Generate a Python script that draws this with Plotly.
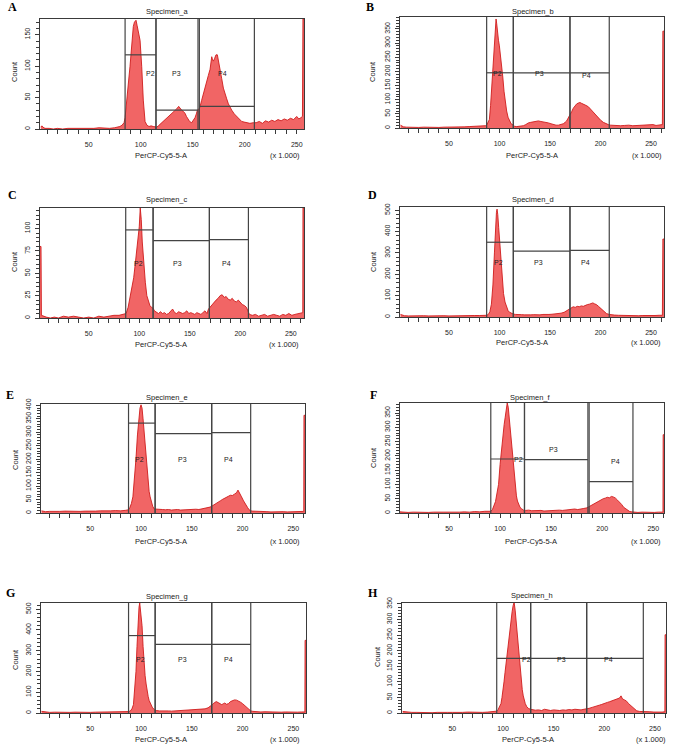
import plotly.graph_objects as go

W, H = 676, 748

PANEL_LETTERS = ["A", "B", "C", "D", "E", "F", "G", "H"]
SPECIMENS = ["Specimen_a", "Specimen_b", "Specimen_c", "Specimen_d",
             "Specimen_e", "Specimen_f", "Specimen_g", "Specimen_h"]
X_TITLE = "PerCP-Cy5-5-A"
X_SCALE_NOTE = "(x 1.000)"
Y_TITLE = "Count"
X_TICKS = [50, 100, 150, 200, 250]
GATE_NAMES = ["P2", "P3", "P4"]

# histogram samples (channel value in thousands, count)
A_HIST = [(4, 3), (5, 5), (6, 3), (8, 1), (12, 1), (16, 0), (20, 1), (25, 0), (30, 1), (35, 1), (40, 1), (45, 0),
          (50, 1), (55, 1), (60, 2), (65, 1), (70, 1), (75, 2), (78, 3), (80, 4), (82, 6), (84, 10),
          (85, 18), (86.5, 40), (88, 70), (89.7, 99), (91, 130), (92.9, 163), (94, 170), (95.5, 173), (96.5, 165),
          (97.7, 152), (99.4, 141), (101, 99), (102.5, 46), (104.2, 12), (106, 6), (108, 4), (110, 5), (112, 4), (114, 3),
          (115.5, 3), (117, 5), (119, 8), (121.8, 12), (123, 15), (125, 18), (127, 20), (128.2, 22), (130, 25),
          (131.4, 28), (133, 30), (134.6, 32), (136.5, 36), (138, 32), (139.4, 30), (141, 28), (142.6, 25), (144, 20),
          (145.8, 15), (147, 12), (149, 10), (150.5, 13), (152.2, 18), (153.5, 24), (154.5, 30), (155.5, 30),
          (157, 35), (158.5, 45), (160.3, 55), (162, 65), (163.5, 75), (165, 85), (166.7, 95), (167.5, 105),
          (168.3, 115), (169.1, 110), (169.9, 108), (171, 112), (172.4, 118), (173.7, 118), (175, 108), (176.3, 95),
          (177.9, 80), (179.5, 65), (181.1, 55), (182.7, 48), (184.3, 40), (186, 34), (187.5, 30), (190, 24),
          (192.3, 20), (194.7, 15), (197.1, 12), (199.5, 11), (201.9, 10), (205, 9), (208.3, 10),
          (211, 10), (214, 12), (217, 9), (220, 13), (223, 11), (226, 14), (229, 12), (232, 15), (235, 13), (238, 16),
          (241, 14), (244, 17), (247, 15), (250, 20), (252, 16), (254, 18), (255.5, 20), (256, 175), (257, 175)]

B_HIST = [(2, 10), (3, 8), (5, 4), (8, 3), (12, 2), (16, 3), (20, 2), (25, 3), (30, 2), (35, 3), (40, 2), (45, 3),
          (50, 3), (55, 2), (60, 3), (65, 4), (70, 5), (75, 6), (80, 5), (84, 6), (86, 8),
          (87.3, 10), (88.5, 18), (90, 30), (91.2, 80), (92.3, 150), (93.5, 230), (94.6, 300), (95.6, 350),
          (96.6, 385), (97.2, 370), (97.9, 340), (99, 310), (99.9, 290), (101, 260), (102.2, 220), (103.3, 180),
          (104.5, 130), (105.8, 90), (107.1, 60), (108.5, 38), (109.8, 25), (111.5, 15), (113.7, 10),
          (115, 6), (117, 5), (119, 6), (121, 7), (123.6, 8), (126, 12), (128.6, 18), (131, 20), (133.5, 22),
          (136, 25), (138.5, 25), (141, 23), (143.4, 22), (146, 20), (148.4, 18), (151, 15), (153.3, 12), (156, 10),
          (158.3, 10), (161, 12), (163.2, 15), (165, 20), (166.5, 25), (168, 35), (169.8, 45), (171.5, 58),
          (173.1, 70), (174.8, 80), (176.4, 85), (178, 88), (179.7, 90), (181.3, 87), (183, 85), (185.5, 80),
          (188, 75), (190.5, 65), (192.9, 55), (195.4, 45), (197.9, 35), (200.3, 27), (202.8, 20), (205.3, 15),
          (207.8, 12), (210, 10), (213, 9), (216, 10), (220, 8), (224, 9), (228, 10), (232, 8), (236, 9), (240, 10),
          (244, 9), (248, 10), (252, 12), (255, 9), (258, 10), (260.5, 11), (261.3, 12), (261.8, 342), (262.9, 342)]

C_HIST = [(1.8, 80), (2.8, 80), (3.2, 3), (5, 2), (8, 1), (12, 0), (16, 1), (20, 0), (25, 2), (30, 1), (35, 2),
          (40, 1), (45, 0), (50, 1), (55, 0), (60, 2), (65, 1), (70, 2), (75, 3), (80, 3), (84, 4), (86, 5),
          (87, 5), (89, 12), (91, 25), (93, 35), (94.5, 45), (96, 60), (97.5, 75), (99, 90), (100, 102), (101, 123),
          (102, 110), (103, 85), (104.5, 60), (106, 40), (107.5, 25), (109, 18), (110.5, 14), (112, 12), (113.7, 11),
          (115, 8), (117, 6), (119, 5), (121, 7), (123, 5), (125, 6), (127, 4), (129, 5), (131, 7), (133, 10),
          (135, 6), (137, 5), (139, 7), (141, 6), (143, 5), (145, 6), (147, 8), (149, 5), (151, 6), (153, 5),
          (155, 4), (157, 6), (159, 5), (161, 4), (163, 6), (165, 8), (167, 5), (168.5, 10),
          (170, 12), (172, 15), (174, 18), (176, 20), (178, 22), (180, 25), (182, 26), (184, 23), (186, 24),
          (188, 21), (190, 20), (192, 22), (194, 19), (196, 18), (198, 20), (200, 17), (202, 15), (204, 14),
          (206, 12), (207.5, 8), (209, 4), (212, 3), (215, 4), (218, 2), (221, 3), (224, 4), (227, 2), (230, 3),
          (233, 4), (236, 3), (239, 2), (242, 4), (245, 3), (248, 5), (251, 3), (254, 4), (257, 5), (260, 6),
          (261.8, 6), (262, 123), (263, 123)]

D_HIST = [(2, 12), (4, 8), (6, 6), (10, 5), (15, 6), (20, 5), (25, 6), (30, 5), (35, 6), (40, 5), (45, 6),
          (50, 5), (55, 6), (60, 5), (65, 6), (70, 6), (75, 7), (80, 7), (85, 8), (87.3, 8),
          (89, 12), (90.5, 25), (92, 60), (93.5, 150), (95, 300), (96, 420), (97, 490), (97.6, 505), (98.3, 480),
          (99.2, 420), (100, 360), (101, 280), (102, 210), (103, 150), (104, 110), (105.5, 70), (107, 45),
          (108.5, 30), (110, 22), (112, 16), (113.7, 14),
          (116, 12), (119, 10), (122, 11), (125, 10), (128, 9), (131, 10), (134, 11), (137, 10), (140, 10),
          (143, 12), (146, 11), (149, 12), (152, 13), (155, 14), (158, 15), (161, 18), (164, 22), (166, 28),
          (168, 35), (169.8, 42), (171, 45), (173, 48), (175, 45), (177, 50), (179, 48), (181, 52), (183, 50),
          (185, 55), (187, 58), (189, 60), (191, 63), (192.5, 66), (194, 62), (196, 58), (198, 50), (200, 42),
          (202, 32), (204, 22), (206, 16), (208.7, 12), (211, 10), (214, 9), (218, 8), (222, 7), (226, 8),
          (230, 6), (234, 7), (238, 6), (242, 7), (246, 6), (250, 8), (254, 7), (258, 8), (261.3, 8),
          (261.8, 365), (262.9, 365)]

E_HIST = [(2, 8), (4, 6), (6, 5), (10, 6), (15, 5), (20, 6), (25, 7), (30, 6), (35, 7), (40, 6), (45, 7),
          (50, 6), (55, 7), (60, 8), (65, 7), (70, 8), (75, 9), (80, 8), (85, 10), (87.7, 12),
          (89, 20), (90.5, 35), (92, 60), (93.5, 120), (95, 200), (96.5, 290), (98, 370), (99, 390), (100, 402),
          (101, 390), (102, 350), (103, 300), (104, 250), (105, 200), (106, 150), (107, 110), (108, 80), (109, 60),
          (110, 40), (111.5, 25), (113, 15),
          (115, 14), (118, 12), (121, 13), (124, 12), (127, 13), (130, 11), (133, 12), (136, 13), (139, 11),
          (142, 12), (145, 13), (148, 12), (151, 13), (154, 14), (157, 13), (160, 15), (163, 17), (166, 20),
          (168, 22), (169.6, 25), (172, 30), (174, 35), (176, 40), (178, 45), (180, 50), (182, 55), (184, 58),
          (186, 62), (188, 66), (190, 65), (192, 70), (194, 75), (195.5, 85), (197, 72), (199, 60), (201, 45),
          (203, 30), (205, 20), (206.5, 12), (208, 8), (210, 7), (213, 6), (216, 5), (220, 6), (224, 5), (228, 4),
          (232, 5), (236, 4), (240, 5), (244, 4), (248, 5), (252, 4), (256, 5), (259.5, 6), (260.3, 6),
          (260.5, 363), (261.5, 363)]

F_HIST = [(2, 4), (5, 3), (10, 2), (15, 3), (20, 2), (25, 3), (30, 2), (35, 3), (40, 2), (45, 3), (50, 3),
          (55, 2), (60, 3), (65, 4), (70, 3), (75, 5), (80, 4), (85, 6), (89, 5), (91, 6),
          (92.5, 12), (94, 25), (95.5, 40), (97, 70), (98.5, 100), (100, 170), (101, 210), (102, 250), (103, 280),
          (104, 310), (105, 335), (106, 360), (107, 385), (108, 370), (109, 330), (110, 290), (111, 245), (112, 200),
          (113, 160), (114, 120), (115, 85), (116, 60), (117, 42), (118, 30), (119.5, 20), (121, 15), (123, 10),
          (125, 9), (128, 10), (131, 8), (134, 9), (137, 8), (140, 9), (143, 7), (146, 8), (149, 9), (152, 8),
          (155, 9), (158, 10), (161, 9), (164, 10), (167, 12), (170, 11), (173, 14), (176, 12), (179, 15),
          (182, 16), (185, 18), (187, 22), (189, 25), (191, 30), (193, 35), (195, 40), (197, 42), (199, 45),
          (201, 50), (203, 52), (205, 55), (207, 53), (209, 58), (211, 56), (213, 52), (215, 45), (217, 38),
          (219, 30), (221, 20), (223, 14), (225, 8), (227, 5), (229, 4), (231, 3), (235, 2), (239, 3), (243, 2),
          (247, 3), (251, 2), (255, 3), (258.5, 3), (259.5, 3), (259.7, 274), (260.5, 274)]

G_HIST = [(2, 8), (4, 6), (7, 4), (10, 3), (15, 4), (20, 3), (25, 4), (30, 3), (35, 4), (40, 3), (45, 4),
          (50, 3), (55, 4), (60, 4), (65, 5), (70, 4), (75, 5), (80, 6), (85, 6), (88, 7),
          (89.5, 10), (91, 20), (92.5, 40), (94, 120), (95, 200), (96, 320), (97, 430), (98, 510), (98.7, 530),
          (99.5, 500), (100.3, 470), (101, 420), (102, 320), (103, 240), (104, 180), (105, 140), (106, 100),
          (107, 80), (108, 60), (109.5, 40), (111, 28), (113, 16),
          (115, 12), (118, 10), (121, 11), (124, 9), (127, 10), (130, 9), (133, 10), (136, 11), (139, 10),
          (142, 11), (145, 12), (148, 12), (151, 13), (154, 14), (157, 15), (160, 17), (163, 20), (166, 25),
          (168, 30), (169.6, 38), (171, 45), (172.5, 52), (174, 55), (176, 50), (178, 44), (179.5, 40), (181, 45),
          (182.5, 48), (184, 42), (186, 45), (188, 55), (190, 60), (192, 63), (194, 62), (196, 58), (198, 52),
          (200, 45), (202, 35), (204, 25), (206, 16), (208, 10), (210, 8), (214, 6), (218, 5), (222, 6), (226, 5),
          (230, 4), (234, 5), (238, 4), (242, 5), (246, 4), (250, 5), (254, 4), (258, 5), (261.3, 5),
          (261.5, 350), (262.4, 350)]

H_HIST = [(1, 5), (3, 4), (6, 3), (10, 2), (15, 2), (20, 1), (25, 2), (30, 1), (35, 2), (40, 1), (45, 2),
          (50, 2), (55, 1), (60, 2), (65, 3), (70, 2), (75, 3), (80, 2), (85, 3), (90, 4), (93.8, 6),
          (95, 10), (96.5, 20), (98, 30), (99, 50), (100, 70), (101, 100), (102, 130), (103, 160), (104, 190),
          (105, 220), (106, 250), (107, 275), (108, 300), (109, 325), (110, 345), (111, 355), (112, 330), (113, 290),
          (114, 250), (115, 210), (116, 170), (117, 135), (118, 100), (119, 75), (120, 55), (121, 40), (122, 30),
          (123.5, 20), (125, 15), (127, 12),
          (129, 10), (132, 9), (135, 10), (138, 8), (141, 12), (144, 9), (147, 8), (150, 10), (153, 9), (156, 8),
          (159, 10), (162, 9), (165, 11), (168, 10), (171, 12), (174, 11), (177, 10), (180, 12), (183, 13),
          (185, 15), (188, 18), (191, 20), (193, 22), (195, 25), (197, 27), (199, 30), (201, 32), (203, 34),
          (205, 36), (207, 38), (209, 42), (211, 44), (213, 45), (215, 48), (216.5, 55), (218, 45), (220, 42),
          (222, 38), (224, 30), (226, 24), (228, 16), (230, 10), (232, 7), (235, 5), (238, 4), (241, 3), (245, 4),
          (249, 3), (253, 2), (257, 3), (259.8, 4), (260, 251), (260.9, 251)]

HISTS = [A_HIST, B_HIST, C_HIST, D_HIST, E_HIST, F_HIST, G_HIST, H_HIST]

# gates: (left, right, height) for P2, P3, P4
A_GATES = [(85, 114.7, 118), (114.7, 155.1, 30), (156.4, 209.3, 36)]
B_GATES = [(87.3, 113.7, 195), (113.7, 169.8, 195), (169.8, 208.7, 195)]
C_GATES = [(86.6, 113.7, 98.5), (113.7, 169.4, 86.5), (169.4, 208.0, 87.6)]
D_GATES = [(87.3, 113.7, 350), (113.7, 169.8, 308), (169.8, 208.7, 312)]
E_GATES = [(87.7, 113.9, 334), (113.9, 169.6, 295), (169.6, 208.0, 299)]
F_GATES = [(90.9, 123.9, 189), (123.9, 186.0, 187), (187.2, 230.1, 110)]
G_GATES = [(87.7, 113.9, 373), (113.9, 169.6, 331), (169.6, 208.0, 331)]
H_GATES = [(93.8, 127.3, 175.6), (127.3, 182.6, 175.6), (182.6, 238.5, 175.6)]
GATES = [A_GATES, B_GATES, C_GATES, D_GATES, E_GATES, F_GATES, G_GATES, H_GATES]

# gate label anchor (x, y) in data units for P2, P3, P4
A_LABELS = [(109, 88), (134.6, 88), (179, 88)]
B_LABELS = [(98.2, 191), (140, 191), (186.3, 184)]
C_LABELS = [(99.2, 60.5), (138, 60.5), (186.6, 60.5)]
D_LABELS = [(99.2, 254), (139, 254), (185.3, 254)]
E_LABELS = [(98.5, 200), (141, 200), (186.4, 200)]
F_LABELS = [(118, 187), (152, 223), (213, 180)]
G_LABELS = [(99.5, 260), (140.5, 260), (186.4, 260)]
H_LABELS = [(122.8, 172), (157.4, 172), (203.8, 172)]
GATE_LABELS = [A_LABELS, B_LABELS, C_LABELS, D_LABELS, E_LABELS, F_LABELS, G_LABELS, H_LABELS]

X_RANGES = [(3.2, 257), (1.5, 262.9), (1.8, 263), (1.5, 262.9), (1.5, 261.5), (2, 260.5), (1.5, 262.4), (0.3, 260.9)]
Y_MAX = [175, 392, 123, 515, 405, 385, 530, 353]
Y_LABEL_STEP = [50, 50, 25, 100, 50, 50, 100, 50]
Y_MINOR_STEP = [10, 10, 5, 20, 10, 10, 20, 10]

# ---- layout geometry (pixels) ----
BOXES = [(40, 19, 304, 129), (400, 17, 664, 128), (40, 208, 304, 318), (400, 207, 664, 317),
         (41, 404, 305, 513), (400, 403, 664, 513), (41, 603, 306, 713), (402, 603, 666, 713)]
LETTER_POS = [(12, 7), (370, 7), (12, 195), (372, 195), (10, 395), (373, 395), (10, 593), (373, 593)]
TITLE_POS = [(167, 12), (533, 12), (167, 200), (533, 199), (167, 397), (530, 397), (167, 596), (532, 595)]
COUNT_POS = [(15, 72), (373, 72), (14, 262), (373, 262), (15, 460), (373, 458), (15, 660), (377, 657)]
XTITLE_POS = [(161, 155), (532, 155), (161, 345), (522, 343), (161, 541), (531, 541), (161, 739), (528, 739)]
XNOTE_POS = [(285, 155), (647, 155), (284, 345), (646, 343), (285, 541), (646, 541), (285, 739), (651, 739)]

FILL = "rgba(240,88,88,0.92)"
EDGE = "#cf1c1c"
FRAME = "#3a3a3a"
GATE_COLOR = "#444444"
FONT = "Liberation Sans, Arial, sans-serif"

def px(x):
    return x / W

def py(y):
    return 1 - y / H

fig = go.Figure()
shapes = []
annotations = []
layout_axes = {}

for i in range(8):
    n = "" if i == 0 else str(i + 1)
    xr, yr = "x" + n, "y" + n
    xs = [p[0] for p in HISTS[i]]
    ys = [p[1] for p in HISTS[i]]
    fig.add_trace(go.Scatter(x=xs, y=ys, mode="lines", fill="tozeroy", fillcolor=FILL,
                             line=dict(color=EDGE, width=0.9), xaxis=xr, yaxis=yr,
                             showlegend=False, hoverinfo="skip"))
    l, t, r, b = BOXES[i]
    layout_axes["xaxis" + n] = dict(
        domain=[px(l), px(r)], range=list(X_RANGES[i]), anchor=yr, automargin=False,
        showline=True, mirror=True, linecolor=FRAME, linewidth=1.3,
        ticks="outside", ticklen=4, tickwidth=1, tickcolor=FRAME,
        tickvals=X_TICKS, ticklabelstandoff=4,
        minor=dict(dtick=10, tick0=0, ticks="outside", ticklen=4, tickcolor=FRAME, tickwidth=1),
        showgrid=False, zeroline=False, tickfont=dict(size=7, color="#222", family=FONT),
        fixedrange=True)
    layout_axes["yaxis" + n] = dict(
        domain=[py(b), py(t)], range=[0, Y_MAX[i]], anchor=xr, automargin=False,
        showline=True, mirror=True, linecolor=FRAME, linewidth=1.3,
        ticks="outside", ticklen=4, tickwidth=1, tickcolor=FRAME,
        dtick=Y_LABEL_STEP[i], tick0=0, tickangle=-90, ticklabelstandoff=2,
        minor=dict(dtick=Y_MINOR_STEP[i], tick0=0, ticks="outside", ticklen=3, tickcolor=FRAME, tickwidth=1),
        showgrid=False, zeroline=False, tickfont=dict(size=7, color="#222", family=FONT),
        fixedrange=True)

    for (g0, g1, gh) in GATES[i]:
        for gx in (g0, g1):
            shapes.append(dict(type="line", xref=xr, yref=yr + " domain", x0=gx, x1=gx, y0=0, y1=1,
                               line=dict(color=GATE_COLOR, width=1.2)))
        shapes.append(dict(type="line", xref=xr, yref=yr, x0=g0, x1=g1, y0=gh, y1=gh,
                           line=dict(color=GATE_COLOR, width=1.2)))
    for name, (lx, ly) in zip(GATE_NAMES, GATE_LABELS[i]):
        annotations.append(dict(xref=xr, yref=yr, x=lx, y=ly, text=name, showarrow=False,
                                font=dict(size=7, color="#222", family=FONT)))

    def add_text(pos, text, size, angle=0, family=FONT, color="#222"):
        annotations.append(dict(xref="paper", yref="paper", x=px(pos[0]), y=py(pos[1]), text=text,
                                showarrow=False, xanchor="center", yanchor="middle", textangle=angle,
                                font=dict(size=size, color=color, family=family)))

    add_text(LETTER_POS[i], "<b>" + PANEL_LETTERS[i] + "</b>", 12, family="Liberation Serif, serif", color="#000")
    add_text(TITLE_POS[i], SPECIMENS[i], 7.5)
    add_text(COUNT_POS[i], Y_TITLE, 7.5, angle=-90)
    add_text(XTITLE_POS[i], X_TITLE, 7.5)
    add_text(XNOTE_POS[i], X_SCALE_NOTE, 7.5)

fig.update_layout(width=W, height=H, margin=dict(l=0, r=0, t=0, b=0, autoexpand=False),
                  paper_bgcolor="white", plot_bgcolor="white",
                  shapes=shapes, annotations=annotations, showlegend=False,
                  font=dict(family=FONT), **layout_axes)

fig.write_html("out.html", config={"displayModeBar": False, "staticPlot": True},
               post_script="document.body.style.margin='0';document.body.style.overflow='hidden';")
